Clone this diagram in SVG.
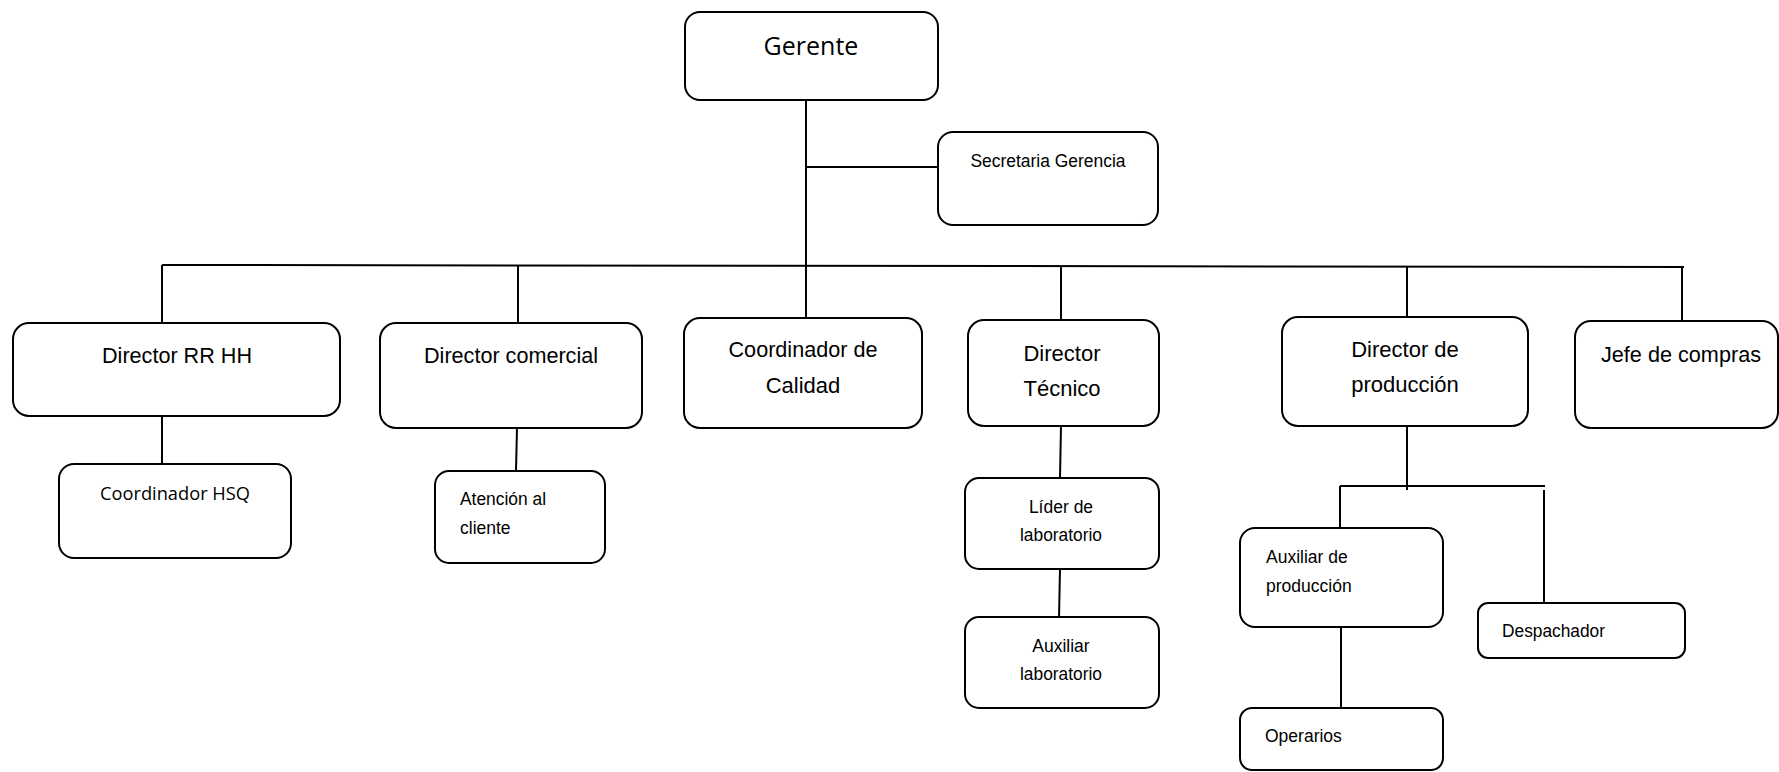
<svg xmlns="http://www.w3.org/2000/svg" width="1779" height="772" viewBox="0 0 1779 772">
<style>
.box{fill:#fff;stroke:#000;stroke-width:2}
.ln{stroke:#000;stroke-width:2;fill:none}
.a{font-family:"Liberation Sans",Arial,sans-serif;fill:#000}
.big{font-size:22px}
.sm{font-size:17.5px}
.c{font-family:"Open Sans","Noto Sans",sans-serif;fill:#000}
.m{text-anchor:middle}
</style>
<rect width="1779" height="772" fill="#fff"/>
<g id="connectors">
<line class="ln" x1="806" y1="100" x2="806" y2="318"/>
<line class="ln" x1="806" y1="167" x2="938" y2="167"/>
<line class="ln" x1="162" y1="265" x2="1684" y2="267"/>
<line class="ln" x1="162" y1="265" x2="162" y2="323"/>
<line class="ln" x1="518" y1="265" x2="518" y2="323"/>
<line class="ln" x1="1061" y1="266" x2="1061" y2="320"/>
<line class="ln" x1="1407" y1="266" x2="1407" y2="318"/>
<line class="ln" x1="1682" y1="266" x2="1682" y2="321"/>
<line class="ln" x1="162" y1="416" x2="162" y2="464"/>
<line class="ln" x1="517" y1="427" x2="516" y2="471"/>
<line class="ln" x1="1061" y1="426" x2="1060" y2="478"/>
<line class="ln" x1="1060" y1="569" x2="1059" y2="618"/>
<line class="ln" x1="1407" y1="425" x2="1407" y2="490"/>
<line class="ln" x1="1340" y1="486" x2="1545" y2="486"/>
<line class="ln" x1="1340" y1="486" x2="1340" y2="528"/>
<line class="ln" x1="1544" y1="490" x2="1544" y2="603"/>
<line class="ln" x1="1341" y1="627" x2="1341" y2="708"/>
</g>
<g id="gerente">
<rect class="box" x="685" y="12" width="253" height="88" rx="15"/>
<text class="c m" x="811" y="55" font-size="25">Gerente</text>
</g>
<g id="secretaria">
<rect class="box" x="938" y="132" width="220" height="93" rx="15"/>
<text class="a m sm" x="1048" y="167" textLength="155" lengthAdjust="spacingAndGlyphs">Secretaria Gerencia</text>
</g>
<g id="director-rrhh">
<rect class="box" x="13" y="323" width="327" height="93" rx="16"/>
<text class="a m big" x="177" y="363" textLength="150" lengthAdjust="spacingAndGlyphs">Director RR HH</text>
</g>
<g id="coordinador-hsq">
<rect class="box" x="59" y="464" width="232" height="94" rx="15"/>
<text class="c m" x="175" y="500" font-size="18" textLength="150" lengthAdjust="spacingAndGlyphs">Coordinador HSQ</text>
</g>
<g id="director-comercial">
<rect class="box" x="380" y="323" width="262" height="105" rx="16"/>
<text class="a m big" x="511" y="363" textLength="174" lengthAdjust="spacingAndGlyphs">Director comercial</text>
</g>
<g id="atencion-cliente">
<rect class="box" x="435" y="471" width="170" height="92" rx="14"/>
<text class="a sm" x="460" y="505" textLength="86" lengthAdjust="spacingAndGlyphs">Atención al</text>
<text class="a sm" x="460" y="534">cliente</text>
</g>
<g id="coordinador-calidad">
<rect class="box" x="684" y="318" width="238" height="110" rx="16"/>
<text class="a m big" x="803" y="357" textLength="149" lengthAdjust="spacingAndGlyphs">Coordinador de</text>
<text class="a m big" x="803" y="393">Calidad</text>
</g>
<g id="director-tecnico">
<rect class="box" x="968" y="320" width="191" height="106" rx="16"/>
<text class="a m big" x="1062" y="361">Director</text>
<text class="a m big" x="1062" y="396">Técnico</text>
</g>
<g id="lider-laboratorio">
<rect class="box" x="965" y="478" width="194" height="91" rx="14"/>
<text class="a m sm" x="1061" y="513">Líder de</text>
<text class="a m sm" x="1061" y="541" textLength="82" lengthAdjust="spacingAndGlyphs">laboratorio</text>
</g>
<g id="auxiliar-laboratorio">
<rect class="box" x="965" y="617" width="194" height="91" rx="14"/>
<text class="a m sm" x="1061" y="652">Auxiliar</text>
<text class="a m sm" x="1061" y="680" textLength="82" lengthAdjust="spacingAndGlyphs">laboratorio</text>
</g>
<g id="director-produccion">
<rect class="box" x="1282" y="317" width="246" height="109" rx="16"/>
<text class="a m big" x="1405" y="357">Director de</text>
<text class="a m big" x="1405" y="392">producción</text>
</g>
<g id="jefe-compras">
<rect class="box" x="1575" y="321" width="203" height="107" rx="16"/>
<text class="a m big" x="1681" y="362" textLength="160" lengthAdjust="spacingAndGlyphs">Jefe de compras</text>
</g>
<g id="auxiliar-produccion">
<rect class="box" x="1240" y="528" width="203" height="99" rx="15"/>
<text class="a sm" x="1266" y="563">Auxiliar de</text>
<text class="a sm" x="1266" y="592">producción</text>
</g>
<g id="despachador">
<rect class="box" x="1478" y="603" width="207" height="55" rx="10"/>
<text class="a sm" x="1502" y="637" textLength="103" lengthAdjust="spacingAndGlyphs">Despachador</text>
</g>
<g id="operarios">
<rect class="box" x="1240" y="708" width="203" height="62" rx="12"/>
<text class="a sm" x="1265" y="742">Operarios</text>
</g>
</svg>
